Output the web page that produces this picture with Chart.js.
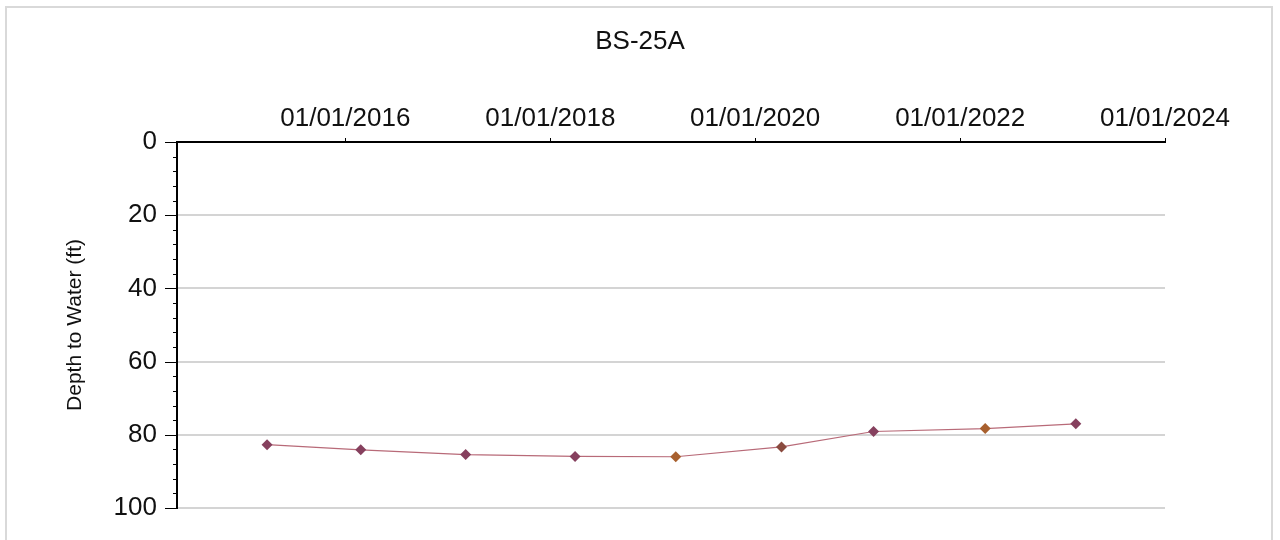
<!DOCTYPE html>
<html>
<head>
<meta charset="utf-8">
<script src="https://cdn.jsdelivr.net/npm/chart.js@4"></script>
<style>
  html, body { margin: 0; padding: 0; background: #fff; }
  #wrap { position: relative; width: 1280px; height: 540px; overflow: hidden; }
  #frame { position: absolute; left: 5px; top: 6px; width: 1268px; height: 560px; border: 2px solid #d9d9d9; box-sizing: border-box; }
  #chart { position: absolute; left: 0; top: 0; }
</style>
</head>
<body>
<div id="wrap">
  <div id="frame"></div>
  <canvas id="chart" width="1280" height="540"></canvas>
</div>
<script>
// sample dates (yyyy-mm-dd) and depth to water in feet
const sampleDates = ['2015-03-28', '2016-02-25', '2017-03-05', '2018-03-30', '2019-03-24', '2020-04-04', '2021-02-26', '2022-03-31', '2023-02-17'];
const depthToWater = [82.7, 84.1, 85.4, 85.9, 86.0, 83.3, 79.1, 78.3, 77.0];
const tickYears = [2016, 2018, 2020, 2022, 2024];
const depthTicks = [0, 20, 40, 60, 80, 100];

function toTime(s) {
    const p = s.split('-').map(Number);
    return Date.UTC(p[0], p[1] - 1, p[2]);
}

function fmtDate(t) {
    const d = new Date(t);
    const mm = String(d.getUTCMonth() + 1).padStart(2, '0');
    const dd = String(d.getUTCDate()).padStart(2, '0');
    return mm + '/' + dd + '/' + d.getUTCFullYear();
}

const points = sampleDates.map((d, i) => ({ x: toTime(d), y: depthToWater[i] }));

// small tick marks on the axes (minor ticks every 4 ft)
const axisTicks = {
    id: 'axisTicks',
    afterDraw(chart) {
        const ctx = chart.ctx;
        const xs = chart.scales.x;
        const ys = chart.scales.y;
        const left = chart.chartArea.left;
        const top = chart.chartArea.top;
        ctx.save();
        ctx.strokeStyle = '#000';
        ctx.lineWidth = 1;
        for (let v = 0; v <= 100; v += 4) {
            const y = Math.round(ys.getPixelForValue(v)) + 0.5;
            const len = v % 20 === 0 ? 12 : 4;
            ctx.beginPath();
            ctx.moveTo(left - len, y);
            ctx.lineTo(left, y);
            ctx.stroke();
        }
        tickYears.forEach(yr => {
            const x = Math.round(xs.getPixelForValue(Date.UTC(yr, 0, 1))) + 0.5;
            ctx.beginPath();
            ctx.moveTo(x, top - 4);
            ctx.lineTo(x, top);
            ctx.stroke();
        });
        ctx.restore();
    }
};

const font = 'Liberation Sans, Arial, sans-serif';

new Chart(document.getElementById('chart'), {
    type: 'line',
    data: {
        datasets: [{
            label: 'BS-25A',
            data: points,
            borderColor: '#b86a78',
            borderWidth: 1.2,
            pointStyle: 'rectRot',
            pointRadius: 5.5,
            pointHoverRadius: 5.5,
            pointBorderWidth: 0,
            pointBackgroundColor: ['#86405e', '#86405e', '#86405e', '#86405e', '#a8602e', '#8a4a3e', '#86405e', '#a8602e', '#86405e'],
            fill: false,
            tension: 0
        }]
    },
    options: {
        responsive: false,
        animation: false,
        layout: { padding: { left: 0, right: 0, top: 0, bottom: 32 } },
        plugins: {
            legend: { display: false },
            tooltip: { enabled: false },
            title: {
                display: true,
                text: 'BS-25A',
                color: '#111',
                font: { family: font, size: 26, weight: 'normal' },
                padding: { top: 26, bottom: 0 }
            }
        },
        scales: {
            x: {
                type: 'linear',
                position: 'top',
                min: Date.UTC(2014, 4, 11),
                max: Date.UTC(2024, 0, 1),
                afterBuildTicks(scale) {
                    scale.ticks = tickYears.map(y => ({ value: Date.UTC(y, 0, 1) }));
                },
                afterFit(scale) {
                    scale.height = 142 - 57.2;
                    scale.paddingLeft = 0;
                    scale.paddingRight = 0;
                },
                grid: { display: false, drawTicks: false },
                border: { display: true, color: '#000', width: 2 },
                ticks: {
                    color: '#111',
                    padding: 8,
                    maxRotation: 0,
                    autoSkip: false,
                    font: { family: font, size: 26 },
                    callback: v => fmtDate(v)
                }
            },
            y: {
                reverse: true,
                min: 0,
                max: 100,
                afterBuildTicks(scale) {
                    scale.ticks = depthTicks.map(v => ({ value: v }));
                },
                afterFit(scale) {
                    scale.width = 177;
                    scale.paddingTop = 0;
                    scale.paddingBottom = 0;
                },
                grid: {
                    drawTicks: false,
                    color: ctx => (ctx.tick && ctx.tick.value > 0) ? '#d4d4d4' : 'rgba(0,0,0,0)',
                    lineWidth: 2
                },
                border: { display: true, color: '#000', width: 2 },
                ticks: {
                    color: '#111',
                    padding: 20,
                    font: { family: font, size: 26 }
                },
                title: {
                    display: true,
                    text: 'Depth to Water (ft)',
                    color: '#111',
                    font: { family: font, size: 21 },
                    padding: { top: 63, bottom: 0 }
                }
            },
            // empty right-hand space so the title centres on the full width
            spacer: {
                type: 'linear',
                position: 'right',
                display: true,
                afterFit(scale) {
                    scale.width = 115;
                    scale.paddingTop = 0;
                    scale.paddingBottom = 0;
                },
                grid: { display: false, drawTicks: false },
                border: { display: false },
                ticks: { display: false }
            }
        }
    },
    plugins: [axisTicks]
});
</script>
</body>
</html>
